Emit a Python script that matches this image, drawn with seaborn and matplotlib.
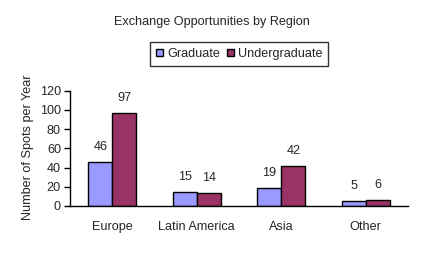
import matplotlib
matplotlib.use("Agg")
import matplotlib.pyplot as plt
import seaborn as sns
import pandas as pd

regions = ["Europe", "Latin America", "Asia", "Other"]
graduate = [46, 15, 19, 5]
undergraduate = [97, 14, 42, 6]
series_names = ["Graduate", "Undergraduate"]
colors = ["#9999FF", "#993366"]

df = pd.DataFrame({
    "Region": regions * 2,
    "Series": [series_names[0]] * 4 + [series_names[1]] * 4,
    "Value": graduate + undergraduate,
})

sns.set_style("white")
plt.rcParams["font.family"] = ["Liberation Sans", "DejaVu Sans"]
FS = 9.1

fig = plt.figure(figsize=(4.22, 2.54), dpi=100)
ax = fig.add_axes([70/422, 1-206/254, (408-70)/422, (206-90.7)/254])

sns.barplot(data=df, x="Region", y="Value", hue="Series", palette=colors,
            width=0.57, edgecolor="black", linewidth=1, ax=ax, legend=True,
            saturation=1)

for cont in ax.containers:
    ax.bar_label(cont, padding=6.5, fontsize=FS)

ax.set_ylim(0, 120)
ax.set_yticks(range(0, 121, 20))
ax.set_xlim(-0.5, 3.5)
ax.set_xlabel("")
ax.set_ylabel("Number of Spots per Year", fontsize=FS)
ax.yaxis.set_label_coords(-0.1065, 0.507)
ax.tick_params(axis="x", which="major", length=0, pad=10.5, labelsize=FS)
ax.set_xticks([-0.5, 0.5, 1.5, 2.5, 3.5], minor=True)
ax.tick_params(axis="x", which="minor", length=4, width=1, color="black", direction="out")
ax.tick_params(axis="y", length=4, width=1, color="black", direction="out", labelsize=FS, pad=2.5)
ax.tick_params(bottom=True, left=True)
for s in ["top", "right"]:
    ax.spines[s].set_visible(False)
for s in ["left", "bottom"]:
    ax.spines[s].set_color("black")
    ax.spines[s].set_linewidth(1)

handles, labels = ax.get_legend_handles_labels()
ax.legend_.remove()
leg = fig.legend(handles, labels, loc="center", bbox_to_anchor=(239/422, 1-54/254),
                 ncol=2, fontsize=FS, frameon=True, fancybox=False,
                 handlelength=0.56, handleheight=0.56, handletextpad=0.32,
                 columnspacing=0.53, borderpad=0.5, borderaxespad=0)
leg.get_frame().set_edgecolor("black")
leg.get_frame().set_linewidth(1)

fig.text(212/422, 1-22/254, "Exchange Opportunities by Region", ha="center", va="center", fontsize=FS)

fig.savefig("out.png", dpi=100)
